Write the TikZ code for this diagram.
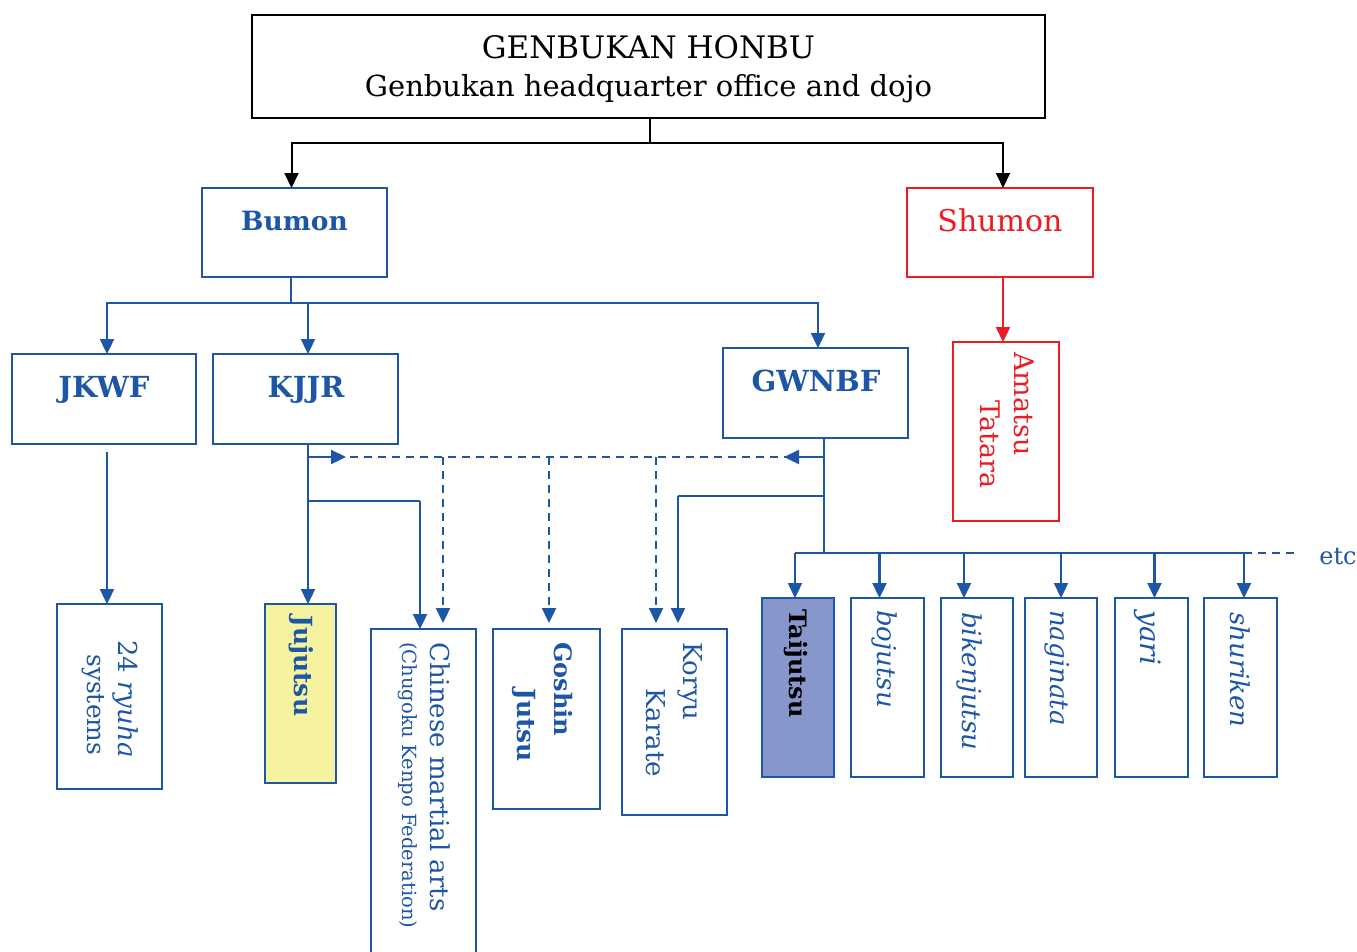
\documentclass[tikz,border=0pt]{standalone}
\usepackage{fontspec}
\setmainfont{DejaVu Serif}
\usetikzlibrary{arrows.meta}
\definecolor{gblue}{RGB}{30,86,166}
\definecolor{gred}{RGB}{236,28,36}
\definecolor{gyellow}{RGB}{245,243,160}
\definecolor{gpurple}{RGB}{136,151,203}
\newcommand{\fs}[1]{\fontsize{#1}{#1}\selectfont}
\newcommand{\gbox}[6][]{\node[bx,#1,minimum width={#5-#3},minimum height={#6-#4}] (#2) at ({(#3+#5)/2},{(#4+#6)/2}) {};}
\begin{document}
\begin{tikzpicture}[x=1pt,y=-1pt,
  bx/.style={draw=gblue,line width=2pt,inner sep=0pt,outer sep=0pt,fill=white},
  tip/.style={-{Triangle[width=14pt,length=15pt]}},
  bl/.style={draw=gblue,line width=2.3pt},
  rl/.style={draw=gred,line width=2.3pt},
  kl/.style={draw=black,line width=2pt},
  dl/.style={draw=gblue,line width=2.3pt,dash pattern=on 8pt off 6pt},
  hd/.style={anchor=base,inner sep=0pt,text=gblue,font=\fs{29}\bfseries},
  vt/.style={rotate=-90,anchor=mid west,inner sep=0pt,text=gblue,font=\fs{26}},
  vb/.style={vt,font=\fs{25}\bfseries},
  vi/.style={vt,font=\fs{26}\itshape},
  ]
\useasboundingbox (0,0) rectangle (1357,951);
\fill[white] (0,0) rectangle (1357,951);

% boxes
\gbox[draw=black]{top}{252}{15}{1045}{118}
\gbox{bumon}{202}{188}{387}{277}
\gbox[draw=gred]{shumon}{907}{188}{1093}{277}
\gbox[draw=gred]{amatsu}{953}{342}{1059}{521}
\gbox{jkwf}{12}{354}{196}{444}
\gbox{kjjr}{213}{354}{398}{444}
\gbox{gwnbf}{723}{348}{908}{438}
\gbox{ryuha}{57}{604}{162}{789}
\gbox[fill=gyellow]{jujutsu}{265}{604}{336}{783}
\gbox{chinese}{371}{629}{476}{960}
\gbox{goshin}{493}{629}{600}{809}
\gbox{koryu}{622}{629}{727}{815}
\gbox[fill=gpurple]{taijutsu}{762}{598}{834}{777}
\gbox{bojutsu}{851}{598}{924}{777}
\gbox{biken}{941}{598}{1013}{777}
\gbox{naginata}{1025}{598}{1097}{777}
\gbox{yari}{1115}{598}{1188}{777}
\gbox{shuriken}{1204}{598}{1277}{777}

% texts
\node[anchor=base,inner sep=0pt,font=\fs{31}] (t1) at (648.5,58) {GENBUKAN HONBU};
\node[anchor=base,inner sep=0pt,font=\fs{29}] (t2) at (648.5,96) {Genbukan headquarter office and dojo};
\node[hd,font=\fs{26.5}\bfseries] (lbumon) at (294.5,230) {Bumon};
\node[hd,text=gred,font=\fs{30}] (lshumon) at (1000,231) {Shumon};
\node[hd] (ljkwf) at (104,397) {JKWF};
\node[hd] (lkjjr) at (306,397) {KJJR};
\node[hd] (lgwnbf) at (816,391) {GWNBF};
\node[anchor=base,inner sep=0pt,text=gblue,font=\fs{24}] (letc) at (1338,564) {etc};

\node[vt,text=gred,font=\fs{27}] (lam) at (1017,352) {Amatsu};
\node[vt,text=gred,font=\fs{27}] (lta) at (983,400) {Tatara};
\node[vt] (l24) at (121,640) {24 \textit{ryuha}};
\node[vt,font=\fs{25}] (lsys) at (90,654) {systems};
\node[vb] (ljuj) at (297,615) {Jujutsu};
\node[vt] (lchi) at (433,642) {Chinese martial arts};
\node[vt,font=\fs{19.5}] (lchu) at (405,642) {(Chugoku Kenpo Federation)};
\node[vb,font=\fs{24}\bfseries] (lgos) at (557,642) {Goshin};
\node[vb] (ljut) at (520,688) {Jutsu};
\node[vt] (lkor) at (686,642) {Koryu};
\node[vt] (lkar) at (649,688) {Karate};
\node[vb,text=black,font=\fs{24}\bfseries] (ltai) at (792,609) {Taijutsu};
\node[vi] (lboj) at (880,610) {bojutsu};
\node[vi] (lbik) at (965,612) {bikenjutsu};
\node[vi] (lnag) at (1053,610) {naginata};
\node[vi,font=\fs{28}\itshape] (lyar) at (1143,610) {yari};
\node[vi] (lshu) at (1233,612) {shuriken};

% top connectors
\coordinate (tj) at (650,143);
\draw[kl] (top.south -| tj) -- (tj);
\draw[kl,tip] (tj) -| ([xshift=-3pt]bumon.north);
\draw[kl,tip] (tj) -| ([xshift=3pt]shumon.north);
\draw[rl,tip] ([xshift=3pt]shumon.south) -- ([xshift=-3pt]amatsu.north);

% bumon connectors
\coordinate (bj) at (291,303);
\draw[bl] (bumon.south -| bj) -- (bj);
\draw[bl,tip] (bj) -| ([xshift=3pt]jkwf.north);
\draw[bl,tip] (bj) -| ([xshift=2.5pt]kjjr.north);
\draw[bl,tip] (bj) -| ([xshift=2.5pt]gwnbf.north);

% jkwf
\coordinate (jk) at (107,452);
\draw[bl,tip] (jk) -- (jk |- ryuha.north);

% kjjr
\coordinate (k0) at (308,444);
\coordinate (kd) at (308,457);
\coordinate (kc) at (308,501);
\coordinate (c1) at (420,501);
\draw[bl,tip] (k0) -- (k0 |- jujutsu.north);
\draw[bl] (kc) -- (c1);
\draw[bl,tip] (c1) -- (c1 |- chinese.north);

% gwnbf
\coordinate (g0) at (824,438);
\coordinate (gd) at (824,457);
\coordinate (gk) at (824,496);
\coordinate (g1) at (678,496);
\coordinate (gt) at (824,553);
\draw[bl] (g0) -- (gt);
\draw[bl] (gk) -- (g1);
\draw[bl,tip] (g1) -- ([yshift=6pt]g1 |- koryu.north);

% dashed
\coordinate (d1) at (443,457);
\coordinate (d2) at (549,457);
\coordinate (d3) at (656,457);
\draw[dl] (kd) -- (gd);
\draw[bl,tip] (kd) -- ++(38,0);
\draw[bl,tip] (gd) -- ++(-40,0);
\draw[dl,tip] (d1) -- ([yshift=6pt]d1 |- chinese.north);
\draw[dl,tip] (d2) -- ([yshift=6pt]d2 |- goshin.north);
\draw[dl,tip] (d3) -- ([yshift=6pt]d3 |- koryu.north);

% weapons branch
\coordinate (w0) at (795,553);
\coordinate (w6) at (1244,553);
\coordinate (we) at (1295,553);
\draw[bl] (w0) -- (w6);
\draw[dl] (w6) -- (we);
\draw[bl,tip] (w0) -- (w0 |- taijutsu.north);
\draw[bl,tip] ([xshift=-8pt]bojutsu.north |- w0) -- ([xshift=-8pt]bojutsu.north);
\draw[bl,tip] ([xshift=-13pt]biken.north |- w0) -- ([xshift=-13pt]biken.north);
\draw[bl,tip] (naginata.north |- w0) -- (naginata.north);
\draw[bl,tip] ([xshift=3pt]yari.north |- w0) -- ([xshift=3pt]yari.north);
\draw[bl,tip] (w6) -- (w6 |- shuriken.north);
\end{tikzpicture}
\end{document}
